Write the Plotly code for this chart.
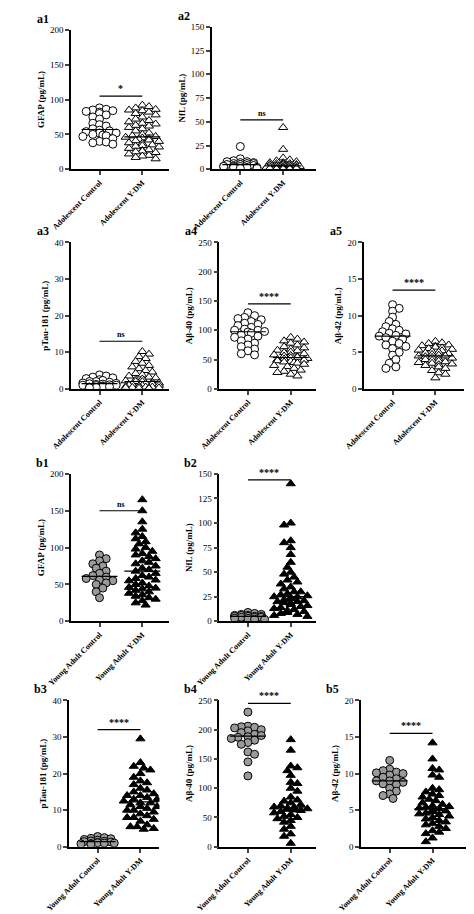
import plotly.graph_objects as go

W, H = 474, 914

groups_a = ["Adolescent Control", "Adolescent Y-DM"]
groups_b = ["Young Adult Control", "Young Adult Y-DM"]

a1_ctrl = [88, 86, 85, 84, 83, 82, 80, 78, 75, 72, 66, 64, 62, 58, 56, 55, 54, 52, 52, 50, 49, 48, 47, 44, 40, 39, 38, 36]
a1_ydm = [92, 90, 88, 86, 85, 84, 82, 80, 78, 75, 72, 70, 68, 66, 65, 63, 62, 60, 58, 55, 52, 50, 48, 47, 46, 45, 44, 43,
          42, 41, 40, 38, 37, 35, 34, 33, 32, 30, 28, 27, 26, 25, 24, 22, 20, 19, 17, 15]
a2_ctrl = [24, 11, 9, 8, 8, 7, 7, 6, 6, 6, 5, 5, 5, 4, 4, 4, 3, 3, 3, 3, 2, 2, 2, 1, 1]
a2_ydm = [44, 21, 12, 10, 9, 8, 7, 7, 6, 6, 6, 5, 5, 5, 4, 4, 4, 4, 3, 3, 3, 3, 3, 2, 2, 2, 2, 2, 1, 1, 1, 1, 1, 0.5, 0.5, 0.5]
a3_ctrl = [3.8, 3.5, 3.2, 3, 2.8, 2.5, 2.3, 2, 2, 1.8, 1.6, 1.5, 1.4, 1.3, 1.2, 1.1, 1, 1, 0.9, 0.8, 0.7, 0.6, 0.5, 0.4, 0.3]
a3_ydm = [10.2, 9.5, 8.8, 8.3, 7.5, 7, 6.4, 6, 5.5, 5, 4.6, 4.2, 3.8, 3.5, 3.2, 3, 2.7, 2.5, 2.2, 2, 2, 1.8, 1.6, 1.5,
          1.4, 1.2, 1, 1, 0.9, 0.8, 0.7, 0.6, 0.5, 0.5, 0.4, 0.3, 0.3, 0.2, 0.2, 0.1]
a4_ctrl = [130, 125, 122, 120, 118, 115, 112, 110, 108, 105, 102, 100, 100, 98, 97, 95, 92, 90, 88, 85, 82, 78, 75, 72, 68, 65, 60, 58]
a4_ydm = [88, 85, 82, 80, 78, 75, 72, 70, 68, 66, 65, 63, 62, 60, 58, 57, 56, 55, 54, 53, 52, 51, 50, 49, 48, 47, 46, 45,
          44, 42, 40, 38, 35, 32, 30, 28, 25, 22]
a5_ctrl = [11.5, 11, 10.6, 9.8, 9.2, 8.8, 8.5, 8.2, 8, 7.8, 7.6, 7.5, 7.3, 7.2, 7, 6.8, 6.5, 6.2, 6, 5.8, 5.5, 5, 4.6, 4, 3.5, 3, 2.8]
a5_ydm = [6.5, 6.3, 6.2, 6, 5.9, 5.8, 5.7, 5.6, 5.5, 5.4, 5.3, 5.2, 5.1, 5, 4.9, 4.8, 4.7, 4.6, 4.5, 4.5, 4.4, 4.3, 4.2,
          4.1, 4, 3.9, 3.8, 3.7, 3.6, 3.5, 3.4, 3.3, 3.2, 3, 2.8, 2.5, 2.2, 2, 1.5]
b1_ctrl = [90, 85, 82, 78, 75, 72, 68, 65, 62, 60, 58, 56, 55, 52, 50, 45, 40, 32]
b1_ydm = [165, 150, 135, 125, 120, 115, 112, 108, 105, 100, 98, 95, 92, 90, 88, 85, 82, 80, 78, 75, 72, 70, 68, 65, 62,
          60, 58, 56, 55, 52, 50, 48, 46, 45, 44, 42, 40, 38, 36, 34, 32, 30, 28, 25, 22]
b2_ctrl = [9, 8, 7, 7, 6, 6, 6, 5, 5, 5, 5, 4, 4, 4, 3, 3, 2, 2]
b2_ydm = [140, 100, 98, 82, 80, 75, 68, 60, 55, 50, 48, 45, 42, 40, 38, 35, 33, 30, 30, 28, 27, 26, 25, 25, 24, 23, 22,
          21, 20, 20, 19, 18, 17, 16, 15, 14, 13, 12, 11, 10, 9, 8, 7, 6, 5]
b3_ctrl = [2.8, 2.5, 2.3, 2.2, 2, 1.8, 1.6, 1.5, 1.4, 1.3, 1.2, 1.1, 1, 1, 0.9, 0.8, 0.7]
b3_ydm = [29.5, 23, 22, 21.5, 21, 20, 19, 18, 17.5, 17, 16, 15.5, 15, 14.5, 14, 14, 13.5, 13, 13, 12.5, 12, 12, 11.5, 11,
          11, 10.5, 10, 10, 9.5, 9, 8.5, 8, 8, 7.5, 7, 6, 5.5, 5.5, 5, 4.8]
b4_ctrl = [230, 206, 205, 204, 203, 200, 198, 195, 192, 190, 188, 187, 185, 182, 178, 175, 162, 158, 145, 121]
b4_ydm = [183, 165, 138, 135, 130, 122, 110, 108, 100, 95, 85, 80, 78, 75, 72, 70, 68, 67, 66, 65, 64, 63, 62, 60, 58,
          55, 52, 50, 48, 45, 42, 35, 30, 22, 18, 6]
b5_ctrl = [11.8, 10.6, 10.4, 10.2, 10.1, 10, 9.8, 9.5, 9.3, 9, 9, 8.8, 8.6, 8.5, 8, 7.6, 7.2, 7, 6.6]
b5_ydm = [14.2, 12, 10.7, 10.5, 9.8, 9.5, 8, 7.8, 7.5, 7.2, 7, 6.8, 6.5, 6.3, 6, 5.8, 5.6, 5.5, 5.4, 5.3, 5.2, 5, 4.9,
          4.8, 4.6, 4.5, 4.4, 4.2, 4, 3.8, 3.6, 3.4, 3.2, 3, 2.8, 2.5, 2.2, 2, 1.8, 1.2, 0.7]

# label, data, groups, y title, ymax, dtick, sig height, sig text, filled style, pixel box (x0, x1, ytop, ybottom)
panels = [
    ("a1", a1_ctrl, a1_ydm, groups_a, "GFAP (pg/mL)", 200, 50, 105, "*", False, (42, 145, 17, 158)),
    ("a2", a2_ctrl, a2_ydm, groups_a, "NfL (pg/mL)", 150, 25, 52, "ns", False, (190, 300, 14, 158)),
    ("a3", a3_ctrl, a3_ydm, groups_a, "pTau-181 (pg/mL)", 40, 10, 13, "ns", False, (42, 145, 232, 380)),
    ("a4", a4_ctrl, a4_ydm, groups_a, "Aβ-40 (pg/mL)", 250, 50, 145, "****", False, (198, 300, 232, 380)),
    ("a5", a5_ctrl, a5_ydm, groups_a, "Aβ-42 (pg/mL)", 20, 5, 13.5, "****", False, (350, 455, 232, 380)),
    ("b1", b1_ctrl, b1_ydm, groups_b, "GFAP (pg/mL)", 200, 50, 150, "ns", True, (42, 145, 466, 615)),
    ("b2", b2_ctrl, b2_ydm, groups_b, "NfL (pg/mL)", 150, 25, 144, "****", True, (198, 300, 466, 615)),
    ("b3", b3_ctrl, b3_ydm, groups_b, "pTau-181 (pg/mL)", 40, 10, 32, "****", True, (40, 135, 695, 843)),
    ("b4", b4_ctrl, b4_ydm, groups_b, "Aβ-40 (pg/mL)", 250, 50, 245, "****", True, (198, 300, 695, 843)),
    ("b5", b5_ctrl, b5_ydm, groups_b, "Aβ-42 (pg/mL)", 20, 5, 15.5, "****", True, (347, 462, 695, 843)),
]

FONT = "Liberation Serif"
CAT_PX = 45  # pixels between the two categories
DIAM = 7
MAXOFF = 20  # px half-width of a swarm


def swarm(values, px_per_unit):
    # compact beeswarm (markers may overlap), offsets in category units
    placed = []
    offs = [0.0] * len(values)
    order = sorted(range(len(values)), key=lambda i: -values[i])
    step = DIAM / 2
    nmax = int(MAXOFF / step)
    for j, i in enumerate(order):
        y = values[i] * px_per_unit
        best, bestcnt = 0.0, None
        for k in range(nmax + 1):
            for c in ([0.0] if k == 0 else [k * step, -k * step] if j % 2 else [-k * step, k * step]):
                cnt = sum(1 for px, py in placed if (c - px) ** 2 + (y - py) ** 2 < (DIAM * 0.8) ** 2)
                if cnt == 0:
                    best, bestcnt = c, 0
                    break
                if bestcnt is None or cnt < bestcnt:
                    best, bestcnt = c, cnt
            if bestcnt == 0:
                break
        placed.append((best, y))
        offs[i] = best / CAT_PX
    return offs


def median(v):
    s = sorted(v)
    n = len(s)
    return s[n // 2] if n % 2 else (s[n // 2 - 1] + s[n // 2]) / 2


fig = go.Figure()
layout = {}
annotations = []

for n, (lab, ctrl, ydm, groups, ytitle, ymax, dtick, sig, sigtxt, filled, box) in enumerate(panels, start=1):
    x0, x1, yt, yb = box
    xa = "x" if n == 1 else f"x{n}"
    ya = "y" if n == 1 else f"y{n}"
    ppu = (yb - yt) / ymax
    for gi, (vals, sym) in enumerate([(ctrl, "circle"), (ydm, "triangle-up")]):
        offs = swarm(vals, ppu)
        if filled:
            fill = "#9a9a9a" if gi == 0 else "black"
        else:
            fill = "white"
        fig.add_trace(go.Scatter(
            x=[gi + o for o in offs], y=vals, mode="markers", xaxis=xa, yaxis=ya, showlegend=False,
            marker=dict(symbol=sym, size=DIAM + 1, color=fill, line=dict(color="black", width=1)),
        ))
        m = median(vals)
        fig.add_trace(go.Scatter(x=[gi - 0.42, gi + 0.42], y=[m, m], mode="lines", xaxis=xa, yaxis=ya,
                                 showlegend=False, line=dict(color="black", width=1.2)))
    fig.add_trace(go.Scatter(x=[0, 1], y=[sig, sig], mode="lines", xaxis=xa, yaxis=ya, showlegend=False,
                             line=dict(color="black", width=1.2)))
    annotations.append(dict(x=0.5, y=sig, xref=xa, yref=ya, text=f"<b>{sigtxt}</b>", showarrow=False,
                            yanchor="bottom", font=dict(family=FONT, size=10 if sigtxt != "ns" else 8, color="black")))
    annotations.append(dict(x=(x0 - 21) / W, y=1 - (yt - 2) / H, xref="paper", yref="paper", text=f"<b>{lab}</b>",
                            showarrow=False, xanchor="right", yanchor="bottom",
                            font=dict(family=FONT, size=12, color="black")))
    layout["xaxis" if n == 1 else f"xaxis{n}"] = dict(
        domain=[x0 / W, x1 / W], anchor=ya, range=[-30 / CAT_PX, (x1 - x0 - 30) / CAT_PX],
        tickmode="array", tickvals=[0, 1], ticktext=[f"<b>{g}</b>" for g in groups], tickangle=-45,
        showline=True, linecolor="black", linewidth=1.5, ticks="outside", ticklen=4, tickwidth=1.5,
        showgrid=False, zeroline=False, tickfont=dict(family=FONT, size=8, color="black"),
    )
    layout["yaxis" if n == 1 else f"yaxis{n}"] = dict(
        domain=[1 - yb / H, 1 - yt / H], anchor=xa, range=[0, ymax], dtick=dtick,
        showline=True, linecolor="black", linewidth=1.5, ticks="outside", ticklen=4, tickwidth=1.5,
        showgrid=False, zeroline=False, tickfont=dict(family=FONT, size=9, color="black"),
        title=dict(text=f"<b>{ytitle}</b>", font=dict(family=FONT, size=9, color="black"), standoff=4),
    )

fig.update_layout(
    width=W, height=H, margin=dict(l=0, r=0, t=0, b=0),
    plot_bgcolor="white", paper_bgcolor="white", annotations=annotations, **layout,
)
fig.write_html("out.html")
